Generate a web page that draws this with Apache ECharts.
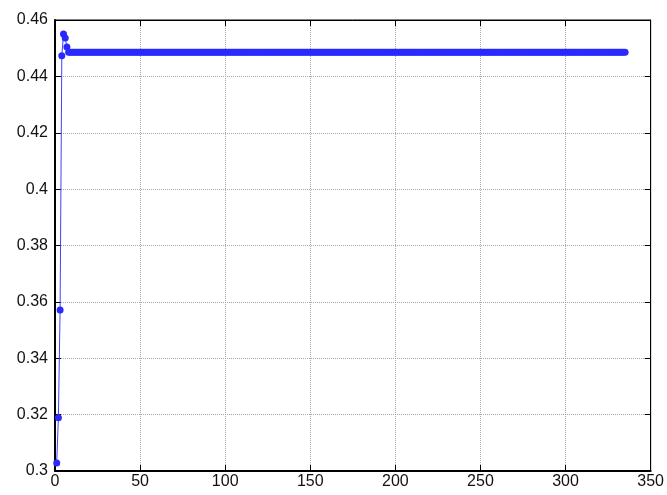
<!DOCTYPE html>
<html>
<head>
<meta charset="utf-8">
<script src="https://cdn.jsdelivr.net/npm/echarts@6/dist/echarts.min.js"></script>
<style>
  html, body { margin: 0; padding: 0; background: #fff; }
  #main { width: 667px; height: 495px; }
</style>
</head>
<body>
<div id="main"></div>
<script>
// iteration values (x = 1, 2, 3, ...)
var startValues = [0.3028, 0.3189, 0.3571, 0.4473, 0.4550, 0.4536, 0.4504];
var steadyValues = [
  0.4486,0.4486,0.4486,0.4486,0.4486,0.4486,0.4486,0.4486,0.4486,0.4486,
  0.4486,0.4486,0.4486,0.4486,0.4486,0.4486,0.4486,0.4486,0.4486,0.4486,
  0.4486,0.4486,0.4486,0.4486,0.4486,0.4486,0.4486,0.4486,0.4486,0.4486,
  0.4486,0.4486,0.4486,0.4486,0.4486,0.4486,0.4486,0.4486,0.4486,0.4486,
  0.4486,0.4486,0.4486,0.4486,0.4486,0.4486,0.4486,0.4486,0.4486,0.4486,
  0.4486,0.4486,0.4486,0.4486,0.4486,0.4486,0.4486,0.4486,0.4486,0.4486,
  0.4486,0.4486,0.4486,0.4486,0.4486,0.4486,0.4486,0.4486,0.4486,0.4486,
  0.4486,0.4486,0.4486,0.4486,0.4486,0.4486,0.4486,0.4486,0.4486,0.4486,
  0.4486,0.4486,0.4486,0.4486,0.4486,0.4486,0.4486,0.4486,0.4486,0.4486,
  0.4486,0.4486,0.4486,0.4486,0.4486,0.4486,0.4486,0.4486,0.4486,0.4486,
  0.4486,0.4486,0.4486,0.4486,0.4486,0.4486,0.4486,0.4486,0.4486,0.4486,
  0.4486,0.4486,0.4486,0.4486,0.4486,0.4486,0.4486,0.4486,0.4486,0.4486,
  0.4486,0.4486,0.4486,0.4486,0.4486,0.4486,0.4486,0.4486,0.4486,0.4486,
  0.4486,0.4486,0.4486,0.4486,0.4486,0.4486,0.4486,0.4486,0.4486,0.4486,
  0.4486,0.4486,0.4486,0.4486,0.4486,0.4486,0.4486,0.4486,0.4486,0.4486,
  0.4486,0.4486,0.4486,0.4486,0.4486,0.4486,0.4486,0.4486,0.4486,0.4486,
  0.4486,0.4486,0.4486,0.4486,0.4486,0.4486,0.4486,0.4486,0.4486,0.4486,
  0.4486,0.4486,0.4486,0.4486,0.4486,0.4486,0.4486,0.4486,0.4486,0.4486,
  0.4486,0.4486,0.4486,0.4486,0.4486,0.4486,0.4486,0.4486,0.4486,0.4486,
  0.4486,0.4486,0.4486,0.4486,0.4486,0.4486,0.4486,0.4486,0.4486,0.4486,
  0.4486,0.4486,0.4486,0.4486,0.4486,0.4486,0.4486,0.4486,0.4486,0.4486,
  0.4486,0.4486,0.4486,0.4486,0.4486,0.4486,0.4486,0.4486,0.4486,0.4486,
  0.4486,0.4486,0.4486,0.4486,0.4486,0.4486,0.4486,0.4486,0.4486,0.4486,
  0.4486,0.4486,0.4486,0.4486,0.4486,0.4486,0.4486,0.4486,0.4486,0.4486,
  0.4486,0.4486,0.4486,0.4486,0.4486,0.4486,0.4486,0.4486,0.4486,0.4486,
  0.4486,0.4486,0.4486,0.4486,0.4486,0.4486,0.4486,0.4486,0.4486,0.4486,
  0.4486,0.4486,0.4486,0.4486,0.4486,0.4486,0.4486,0.4486,0.4486,0.4486,
  0.4486,0.4486,0.4486,0.4486,0.4486,0.4486,0.4486,0.4486,0.4486,0.4486,
  0.4486,0.4486,0.4486,0.4486,0.4486,0.4486,0.4486,0.4486,0.4486,0.4486,
  0.4486,0.4486,0.4486,0.4486,0.4486,0.4486,0.4486,0.4486,0.4486,0.4486,
  0.4486,0.4486,0.4486,0.4486,0.4486,0.4486,0.4486,0.4486,0.4486,0.4486,
  0.4486,0.4486,0.4486,0.4486,0.4486,0.4486,0.4486,0.4486,0.4486,0.4486,
  0.4486,0.4486,0.4486,0.4486,0.4486,0.4486,0.4486,0.4486
];
var xTicks = [0, 50, 100, 150, 200, 250, 300, 350];
var yTicks = [0.3, 0.32, 0.34, 0.36, 0.38, 0.4, 0.42, 0.44, 0.46];

var values = startValues.concat(steadyValues);
var points = [];
for (var i = 0; i < values.length; i++) {
    points.push([i + 1, values[i]]);
}

var myChart = echarts.init(document.getElementById('main'));

var gridLine = { show: true, lineStyle: { color: '#a8a8a8', type: 'dotted', width: 1 } };
var textStyle = { color: '#111', fontSize: 16, fontFamily: 'Liberation Sans, Arial, sans-serif' };

var option = {
    animation: false,
    backgroundColor: '#fff',
    grid: {
        left: 55, right: 16, top: 20, bottom: 24,
        show: true, borderColor: '#000', borderWidth: 1
    },
    xAxis: [{
        type: 'value',
        min: xTicks[0], max: xTicks[xTicks.length - 1], interval: 50,
        axisLine: { show: true, onZero: false, lineStyle: { color: '#000', width: 2 } },
        axisTick: { show: true, inside: true, length: 6, lineStyle: { color: '#000' } },
        axisLabel: Object.assign({ margin: 3 }, textStyle),
        splitLine: gridLine
    }, {
        type: 'value', position: 'top',
        min: xTicks[0], max: xTicks[xTicks.length - 1], interval: 50,
        axisLine: { show: true, onZero: false, lineStyle: { color: '#000' } },
        axisTick: { show: true, inside: true, length: 6, lineStyle: { color: '#000' } },
        axisLabel: { show: false },
        splitLine: { show: false }
    }],
    yAxis: [{
        type: 'value',
        min: yTicks[0], max: yTicks[yTicks.length - 1], interval: 0.02,
        axisLine: { show: true, onZero: false, lineStyle: { color: '#000', width: 2 } },
        axisTick: { show: true, inside: true, length: 6, lineStyle: { color: '#000' } },
        axisLabel: Object.assign({ margin: 7 }, textStyle),
        splitLine: gridLine
    }, {
        type: 'value', position: 'right',
        min: yTicks[0], max: yTicks[yTicks.length - 1], interval: 0.02,
        axisLine: { show: true, onZero: false, lineStyle: { color: '#000' } },
        axisTick: { show: true, inside: true, length: 6, lineStyle: { color: '#000' } },
        axisLabel: { show: false },
        splitLine: { show: false }
    }],
    series: [{
        type: 'line',
        data: points,
        symbol: 'circle',
        symbolSize: 7,
        showSymbol: true,
        showAllSymbol: true,
        itemStyle: { color: '#2a2aff' },
        lineStyle: { color: '#4040ff', width: 1 }
    }]
};
myChart.setOption(option);
</script>
</body>
</html>
